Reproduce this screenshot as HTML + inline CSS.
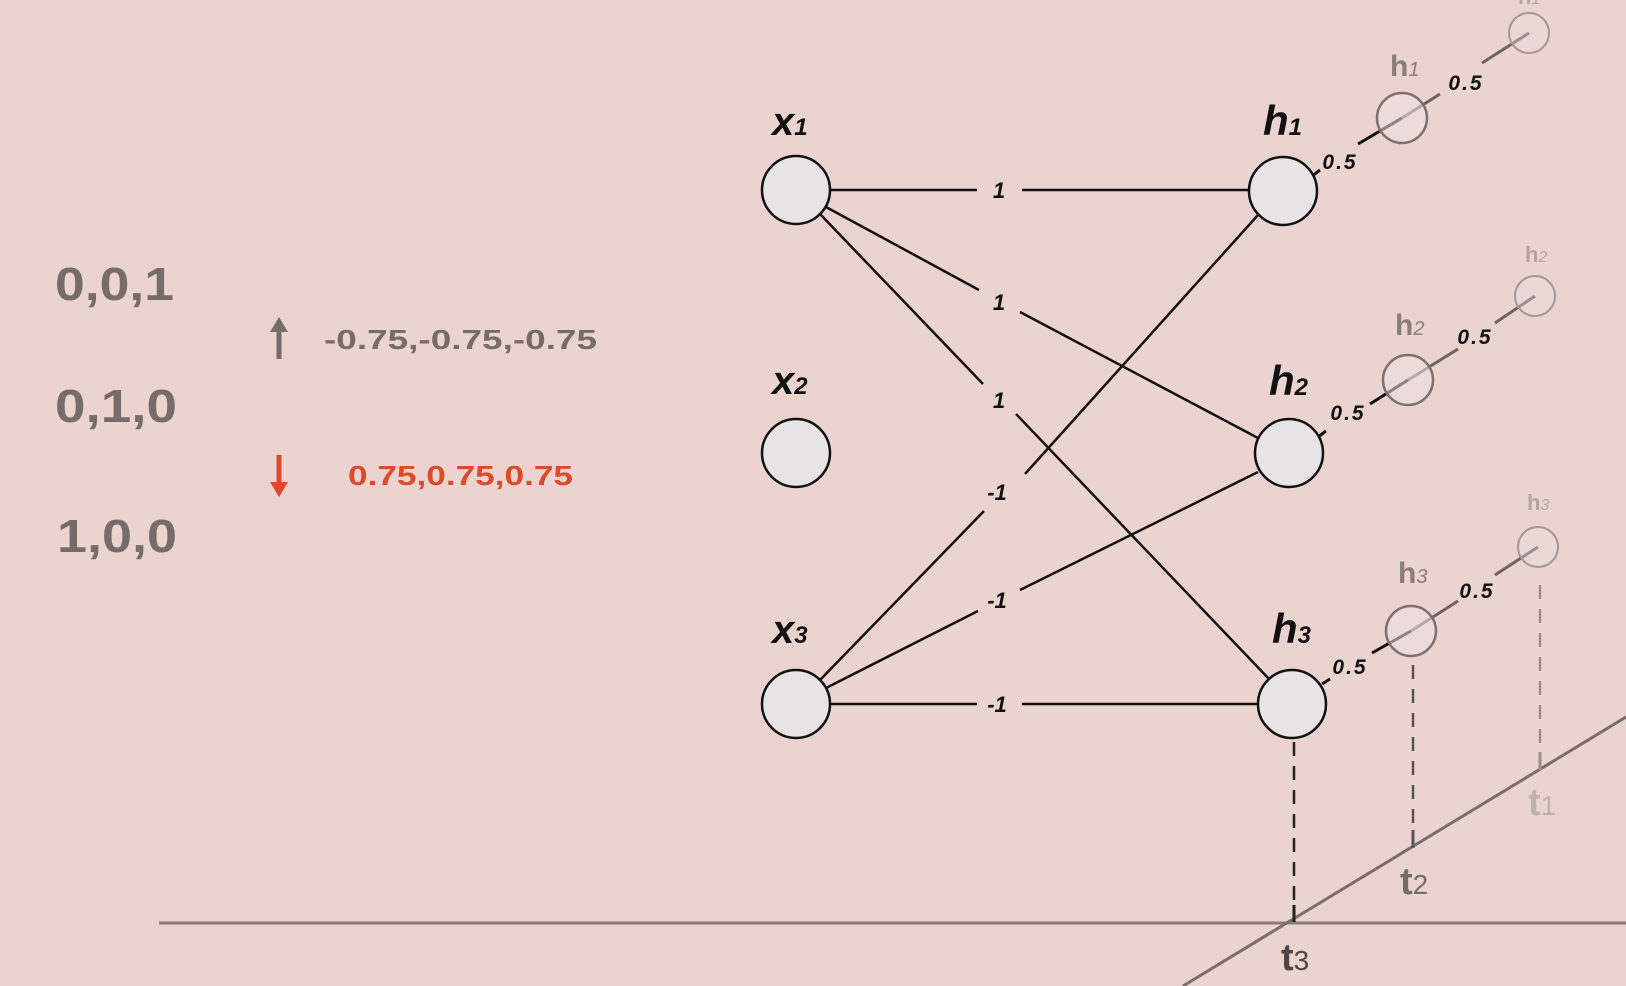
<!DOCTYPE html>
<html><head><meta charset="utf-8"><style>
html,body{margin:0;padding:0;background:#ebd3d0;}
svg{display:block;}
text{font-family:"Liberation Sans",sans-serif;}
</style></head><body>
<svg width="1626" height="986" viewBox="0 0 1626 986" xmlns="http://www.w3.org/2000/svg">
<rect width="1626" height="986" fill="#ebd3d0"/>
<!-- left text -->
<g fill="#766c6a" font-weight="bold">
<text x="55" y="300" font-size="46" textLength="119" lengthAdjust="spacingAndGlyphs">0,0,1</text>
<text x="55" y="422" font-size="46" textLength="122" lengthAdjust="spacingAndGlyphs">0,1,0</text>
<text x="57" y="552" font-size="46" textLength="120" lengthAdjust="spacingAndGlyphs">1,0,0</text>
<text x="324" y="349" font-size="28" textLength="273" lengthAdjust="spacingAndGlyphs">-0.75,-0.75,-0.75</text>
</g>
<text x="348" y="485" font-size="28" font-weight="bold" fill="#de4a2c" textLength="225" lengthAdjust="spacingAndGlyphs">0.75,0.75,0.75</text>
<line x1="279" y1="328" x2="279" y2="359" stroke="#766c6a" stroke-width="5"/>
<polygon points="279,317 270,332 288,332" fill="#766c6a"/>
<line x1="279" y1="455" x2="279" y2="486" stroke="#de4a2c" stroke-width="5"/>
<polygon points="279,497 270,482 288,482" fill="#de4a2c"/>

<!-- axes -->
<line x1="159" y1="923" x2="1626" y2="923" stroke="#8a7d7b" stroke-width="3"/>
<line x1="1183" y1="986" x2="1626" y2="717" stroke="#7a6e6c" stroke-width="3"/>
<g stroke-dasharray="14,10" stroke-width="2.5">
<line x1="1294" y1="742" x2="1294" y2="920" stroke="#222"/>
<line x1="1413" y1="665" x2="1413" y2="846" stroke="#555"/>
<line x1="1540" y1="585" x2="1540" y2="770" stroke="#9a8d8b"/>
</g>
<line x1="1294" y1="905" x2="1294" y2="922" stroke="#222" stroke-width="3"/>
<line x1="1413" y1="830" x2="1413" y2="848" stroke="#555" stroke-width="3"/>
<line x1="1540" y1="752" x2="1540" y2="770" stroke="#9a8d8b" stroke-width="3"/>
<text x="1281" y="970" font-size="38" font-weight="bold" fill="#4e4646">t<tspan font-size="28" font-weight="normal">3</tspan></text>
<text x="1400" y="894" font-size="38" font-weight="bold" fill="#766c6a">t<tspan font-size="28" font-weight="normal">2</tspan></text>
<text x="1528" y="815" font-size="38" font-weight="bold" fill="#c0b0ae">t<tspan font-size="28" font-weight="normal">1</tspan></text>

<!-- network edges -->
<g stroke="#111" stroke-width="2.5" fill="none">
<line x1="830" y1="190" x2="977" y2="190"/><line x1="1022" y1="190" x2="1250" y2="190"/>
<line x1="826" y1="207" x2="979" y2="290"/><line x1="1020" y1="312" x2="1258" y2="438"/>
<line x1="820" y1="214" x2="983" y2="384"/><line x1="1016" y1="414" x2="1270" y2="680"/>
<line x1="1258" y1="215" x2="1025" y2="474"/><line x1="984" y1="511" x2="820" y2="680"/>
<line x1="1258" y1="472" x2="1020" y2="590"/><line x1="978" y1="611" x2="826" y2="688"/>
<line x1="830" y1="704" x2="977" y2="704"/><line x1="1022" y1="704" x2="1258" y2="704"/>
</g>
<g font-size="22" font-weight="bold" font-style="italic" fill="#111" text-anchor="middle">
<text x="999" y="198">1</text>
<text x="999" y="310">1</text>
<text x="999" y="408">1</text>
<text x="997" y="500">-1</text>
<text x="997" y="608">-1</text>
<text x="997" y="712">-1</text>
</g>

<!-- h chains -->
<g stroke-width="3" fill="none">
<line x1="1312" y1="176" x2="1320" y2="170" stroke="#111"/>
<line x1="1358" y1="144" x2="1402" y2="118" stroke="#111"/>
<line x1="1402" y1="118" x2="1440" y2="94" stroke="#6e6463"/>
<line x1="1482" y1="63" x2="1529" y2="33" stroke="#6e6463"/>
<line x1="1318" y1="437" x2="1326" y2="431" stroke="#111"/>
<line x1="1370" y1="404" x2="1408" y2="380" stroke="#111"/>
<line x1="1408" y1="380" x2="1458" y2="349" stroke="#6e6463"/>
<line x1="1495" y1="323" x2="1535" y2="296" stroke="#6e6463"/>
<line x1="1322" y1="684" x2="1330" y2="679" stroke="#111"/>
<line x1="1372" y1="653" x2="1411" y2="631" stroke="#111"/>
<line x1="1411" y1="631" x2="1458" y2="601" stroke="#6e6463"/>
<line x1="1495" y1="575" x2="1538" y2="547" stroke="#6e6463"/>
</g>
<g fill="rgba(236,226,226,0.55)" stroke="#7c7070" stroke-width="2.5">
<circle cx="1402" cy="118" r="25"/><circle cx="1408" cy="380" r="25"/><circle cx="1411" cy="631" r="25"/>
</g>
<g fill="rgba(236,226,226,0.35)" stroke="#a39696" stroke-width="2">
<circle cx="1529" cy="33" r="20"/><circle cx="1535" cy="296" r="20"/><circle cx="1538" cy="547" r="20"/>
</g>
<g font-size="21" font-style="italic" fill="#111" font-weight="bold" text-anchor="middle" letter-spacing="2">
<text x="1340" y="169">0.5</text><text x="1466" y="90">0.5</text>
<text x="1348" y="420">0.5</text><text x="1475" y="344">0.5</text>
<text x="1350" y="674">0.5</text><text x="1477" y="598">0.5</text>
</g>
<g font-weight="bold" fill="#8a7e7c">
<text x="1390" y="76" font-size="30">h<tspan font-size="20" font-weight="normal" font-style="italic">1</tspan></text>
<text x="1395" y="335" font-size="30">h<tspan font-size="20" font-weight="normal" font-style="italic">2</tspan></text>
<text x="1398" y="583" font-size="30">h<tspan font-size="20" font-weight="normal" font-style="italic">3</tspan></text>
</g>
<g font-weight="bold" fill="#b3a5a3">
<text x="1525" y="262" font-size="22">h<tspan font-size="16" font-weight="normal" font-style="italic">2</tspan></text>
<text x="1527" y="510" font-size="22">h<tspan font-size="16" font-weight="normal" font-style="italic">3</tspan></text>
<text x="1518" y="4" font-size="22">h<tspan font-size="16" font-weight="normal" font-style="italic">1</tspan></text>
</g>

<!-- main nodes -->
<g fill="#e6e4e4" stroke="#111" stroke-width="2.5">
<ellipse cx="796" cy="190" rx="34" ry="34"/>
<ellipse cx="796" cy="453" rx="34" ry="34"/>
<ellipse cx="796" cy="704" rx="34" ry="34"/>
<ellipse cx="1283" cy="191" rx="34" ry="34"/>
<ellipse cx="1289" cy="453" rx="34" ry="34"/>
<ellipse cx="1292" cy="704" rx="34" ry="34"/>
</g>
<g font-weight="bold" fill="#111" font-style="italic">
<text x="772" y="135" font-size="40">x<tspan font-size="24">1</tspan></text>
<text x="772" y="394" font-size="40">x<tspan font-size="24">2</tspan></text>
<text x="772" y="643" font-size="40">x<tspan font-size="24">3</tspan></text>
<text x="1263" y="135" font-size="42">h<tspan font-size="24">1</tspan></text>
<text x="1269" y="395" font-size="42">h<tspan font-size="24">2</tspan></text>
<text x="1272" y="643" font-size="42">h<tspan font-size="24">3</tspan></text>
</g>
</svg>
</body></html>
